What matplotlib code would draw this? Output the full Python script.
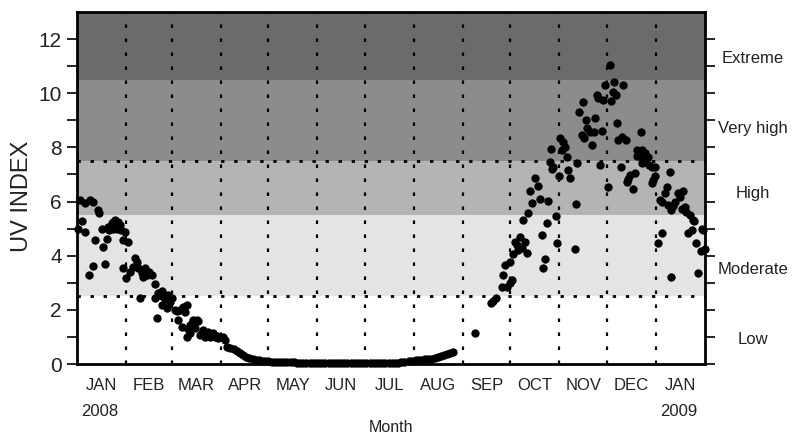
import datetime as dt
import matplotlib
matplotlib.use("Agg")
import matplotlib.pyplot as plt

plt.rcParams['font.family'] = ['Liberation Sans', 'DejaVu Sans']

# ---- data: daily UV index, x = days since 1 Jan 2008 ----
jan_mar_days = [0.8, 1.9, 3.0, 5.0, 5.1, 7.6, 8.2, 9.9, 10.3, 11.6, 13.5, 13.9, 15.6, 16.6,
                17.7, 18.8, 19.8, 20.5, 21.9, 22.5, 23.0, 24.0, 24.5, 25.1, 26.1, 26.5, 27.2,
                28.0, 29.3, 29.3, 30.3, 30.8,
                32.4, 33.5, 35.6, 36.4, 37.7, 38.8, 39.8, 40.9, 41.9, 43.0, 44.0, 45.5, 47.2,
                49.3, 49.3, 50.4, 51.4, 52.5, 53.5, 53.5, 54.0, 55.5, 56.7, 57.7, 58.8, 59.8,
                61.9, 63.0, 64.0, 65.0, 66.2, 67.2, 68.3, 69.3, 69.3, 70.4, 71.4, 71.4, 72.5,
                73.5, 74.6, 75.7, 76.3, 77.7, 78.8, 79.8, 80.8, 82.0, 83.0, 84.0, 85.0, 86.2,
                87.3, 88.3, 89.3, 90.4, 92.5, 93.6]
jan_mar_uv = [5.00, 6.06, 5.29, 5.93, 4.89, 3.29, 6.06, 3.63, 6.00, 4.58, 5.69, 5.56, 5.00, 4.33,
              3.68, 4.62, 5.07, 4.95, 5.19, 5.25, 5.00, 5.32, 5.10, 5.00, 5.25, 5.05, 5.13,
              4.95, 4.58, 3.53, 4.89, 3.16,
              4.52, 3.41, 3.59, 3.93, 3.78, 3.53, 2.45, 3.35, 3.22, 3.53, 3.30, 3.40, 3.29,
              2.95, 2.45, 1.70, 2.61, 2.55, 2.70, 2.18, 2.50, 2.40, 2.06, 2.55, 2.30, 2.43,
              1.99, 1.95, 1.62, 2.00, 1.38, 2.12, 1.93, 2.18, 1.01, 1.30, 1.44, 1.13, 1.50,
              1.62, 1.32, 1.62, 1.59, 1.07, 1.15, 1.26, 1.01, 1.05, 1.19, 1.01, 1.05, 1.13,
              1.00, 1.05, 0.95, 0.98, 1.01, 0.90]

# April - mid July (every second day)
winter_days = list(range(95, 208, 2))
winter_uv = [0.64, 0.58, 0.54, 0.49, 0.42, 0.34, 0.27, 0.21, 0.17, 0.15,
             0.13, 0.12, 0.11, 0.10, 0.09, 0.09, 0.08, 0.08, 0.07, 0.07,
             0.06, 0.06, 0.05, 0.05, 0.05, 0.04, 0.04, 0.04, 0.04, 0.04,
             0.03, 0.03, 0.03, 0.03, 0.03, 0.03, 0.03, 0.03, 0.03, 0.03,
             0.03, 0.03, 0.03, 0.03, 0.03, 0.04, 0.04, 0.04, 0.04, 0.04,
             0.04, 0.05, 0.05, 0.05, 0.05, 0.06, 0.06]

# late July - August (every second day)
late_winter_days = list(range(210, 239, 2))
late_winter_uv = [0.10, 0.12, 0.13, 0.14, 0.16, 0.17, 0.18, 0.20, 0.22, 0.25,
                  0.28, 0.32, 0.36, 0.41, 0.45]

spring_days = [251.6, 262.0, 262.8, 265.0, 268.4, 269.5, 270.5, 271.6, 273.7, 273.7, 274.8,
               275.8, 276.9, 278.0, 279.0, 280.0, 281.1, 281.7, 283.2, 284.3, 285.3, 286.3,
               287.4, 289.5, 291.6, 292.6, 293.7, 294.8, 295.8, 296.9, 297.9, 299.0, 299.4,
               300.5, 301.0, 302.8, 303.6, 304.5, 305.3, 306.4, 307.4, 308.3, 309.5, 310.6,
               311.6, 314.8, 315.4, 315.9, 317.5, 319.0, 319.7, 320.6, 321.7, 322.6, 324.3,
               325.8, 327.0, 327.4, 328.5, 329.5, 330.6, 331.7, 332.7, 333.8, 335.8, 336.9,
               337.5, 339.0, 339.6, 340.5, 341.5, 342.1, 343.6, 344.3, 345.3, 346.8, 347.5,
               348.5, 349.6, 351.6, 352.7, 353.8, 353.8, 355.9, 356.5, 356.9, 357.3, 359.0,
               360.0, 361.1, 361.6, 363.3, 363.3, 364.3, 365.4, 365.4, 367.5, 368.5, 369.6,
               370.0, 371.6, 372.7, 373.7, 374.8, 375.5, 375.8, 377.0, 378.0, 380.1, 381.2,
               382.2, 383.2, 384.3, 385.3, 386.5, 387.5, 388.5, 389.5, 390.2, 391.4, 392.7,
               394.4, 394.9, 396.0, 397.0]
spring_uv = [1.13, 2.24, 2.32, 2.43, 2.85, 3.29, 3.66, 2.85, 2.98, 3.78, 3.10,
             4.06, 4.52, 4.39, 4.21, 4.70, 4.27, 5.32, 4.52, 4.09, 5.56, 6.40,
             5.96, 6.86, 6.57, 6.09, 4.76, 3.53, 3.87, 5.19, 6.03, 7.47, 7.93,
             7.20, 7.29, 5.47, 4.48, 6.94, 8.33, 7.90, 8.21, 8.00, 7.66, 7.16,
             6.88, 4.23, 5.91, 7.41, 9.32, 8.46, 9.69, 8.33, 9.01, 8.70, 8.58,
             8.09, 8.58, 9.07, 9.93, 9.81, 7.35, 8.62, 9.75, 10.30, 6.55, 11.04,
             9.72, 10.06, 10.43, 9.93, 8.89, 8.27, 7.26, 8.39, 10.30, 8.29, 6.73,
             6.85, 6.98, 6.45, 7.04, 7.90, 7.68, 7.68, 8.58, 7.41, 7.90, 7.78,
             7.60, 7.66, 7.35, 7.26, 6.69, 6.79, 7.29, 6.94, 4.48, 6.06, 4.85,
             6.00, 6.30, 6.55, 5.87, 7.10, 3.20, 5.69, 5.85, 5.99, 6.30, 6.18,
             5.71, 6.40, 5.80, 5.62, 4.82, 5.50, 4.95, 5.32, 5.29, 4.48, 3.35,
             4.18, 4.97, 4.95, 4.23]

# UV index categories
band_edges = [0, 2.5, 5.5, 7.5, 10.5, 13]
band_colors = ['white', '#e4e4e4', '#b4b4b4', '#8c8c8c', '#6b6b6b']
band_labels = ['Low', 'Moderate', 'High', 'Very high', 'Extreme']
band_label_y = [0.9, 3.5, 6.3, 8.7, 11.3]

month_names = ['JAN', 'FEB', 'MAR', 'APR', 'MAY', 'JUN', 'JUL', 'AUG', 'SEP', 'OCT',
               'NOV', 'DEC', 'JAN']

# ---- month boundaries ----
start = dt.date(2008, 1, 1)
month_starts = []
for k in range(14):
    y, m = 2008 + k // 12, k % 12 + 1
    month_starts.append((dt.date(y, m, 1) - start).days)
x_end = month_starts[-1]

fig = plt.figure(figsize=(7.92, 4.37), dpi=100)
ax = fig.add_axes([77 / 792, 1 - 364 / 437, (705 - 77) / 792, (364 - 12) / 437])

for i, col in enumerate(band_colors):
    ax.axhspan(band_edges[i], band_edges[i + 1], color=col, lw=0, zorder=0)

dot_style = dict(color='black', lw=1.6, ls=(0, (1.6, 4.7)), zorder=1)
for d in month_starts[1:-1]:
    ax.axvline(d, **dot_style)
for yv in (2.5, 7.5):
    ax.axhline(yv, color='black', lw=2.0, ls=(0, (1.2, 3.5)), zorder=1)

all_days = jan_mar_days + winter_days + late_winter_days + spring_days
all_uv = jan_mar_uv + winter_uv + late_winter_uv + spring_uv
ax.plot(all_days, all_uv, 'o', color='black', ms=6.0, mew=0, zorder=3, clip_on=False)

ax.set_xlim(0, x_end)
ax.set_ylim(0, 13)

for s in ax.spines.values():
    s.set_linewidth(2.0)
    s.set_zorder(4)

ax.set_yticks(range(0, 13))
ax.set_yticklabels([str(v) if v % 2 == 0 else '' for v in range(0, 13)])
ax.tick_params(axis='y', which='major', direction='out', length=7, width=1.2,
               labelsize=15, pad=4, labelcolor='#222222', right=True)
ax.set_xticks([])

text_color = '#222222'
for i, name in enumerate(month_names):
    mid = (month_starts[i] + month_starts[i + 1]) / 2
    ax.text(mid, -0.78, name, ha='center', va='center', fontsize=12,
            color=text_color, clip_on=False)
ax.text((month_starts[0] + month_starts[1]) / 2 - 1, -1.74, '2008', ha='center', va='center',
        fontsize=12, color=text_color, clip_on=False)
ax.text((month_starts[12] + month_starts[13]) / 2 - 1, -1.74, '2009', ha='center', va='center',
        fontsize=12, color=text_color, clip_on=False)
fig.text(391 / 792, 1 - 427 / 437, 'Month', ha='center', va='center', fontsize=11.5,
         color=text_color)

for lab, yl in zip(band_labels, band_label_y):
    ax.text(1.076, yl / 13, lab, transform=ax.transAxes, ha='center', va='center',
            fontsize=12, color=text_color)

fig.text(22 / 792, 1 - 196 / 437, 'UV INDEX', rotation=90, ha='center', va='center',
         fontsize=17, color=text_color)

fig.savefig('out.png', dpi=100)
